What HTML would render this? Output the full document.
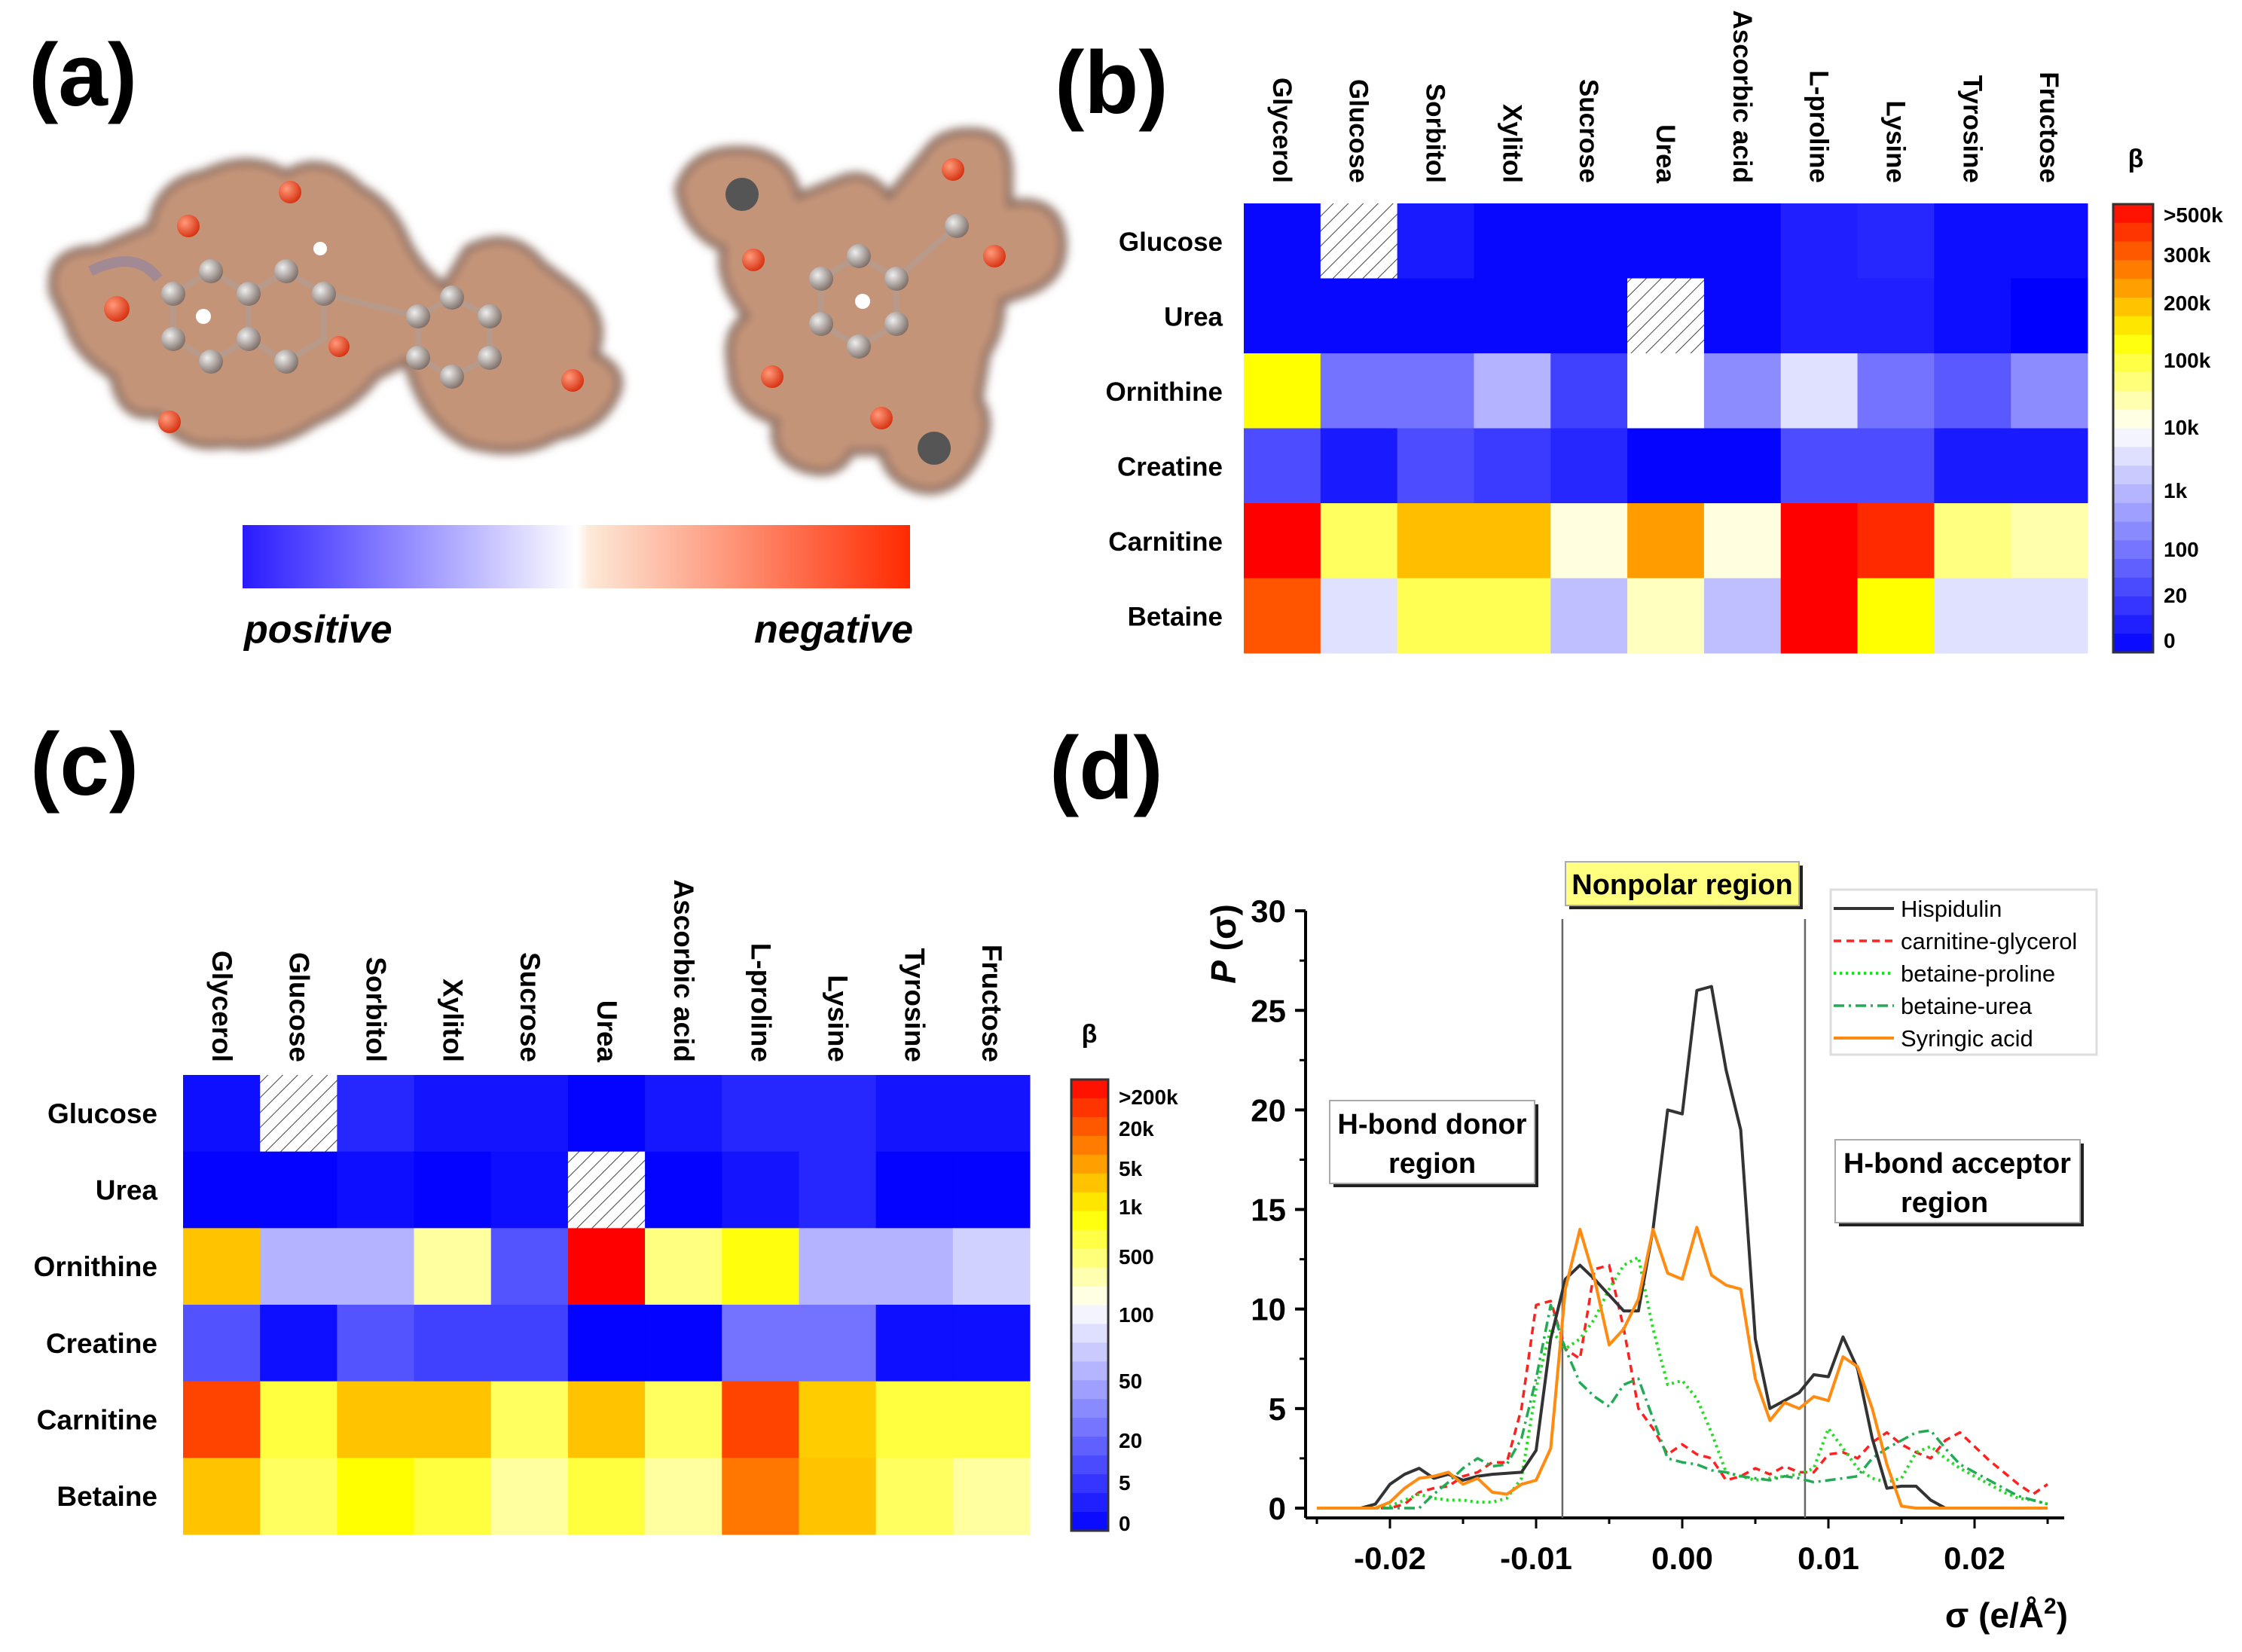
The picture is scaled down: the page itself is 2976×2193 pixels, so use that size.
<!DOCTYPE html>
<html><head><meta charset="utf-8"><style>
html,body{margin:0;padding:0;background:#fff}
svg{display:block}
text{font-family:"Liberation Sans",sans-serif}
</style></head><body>
<svg id="fig" width="2976" height="2193" viewBox="0 0 2976 2193" xmlns="http://www.w3.org/2000/svg">
<defs>
<pattern id="hatch" width="14" height="14" patternUnits="userSpaceOnUse" patternTransform="rotate(45)">
<rect width="14" height="14" fill="#fff"/><line x1="0" y1="0" x2="0" y2="14" stroke="#444" stroke-width="2"/>
</pattern>
<linearGradient id="espbar" x1="0" x2="1" y1="0" y2="0">
<stop offset="0" stop-color="#2a1bff"/><stop offset="0.5" stop-color="#ffffff"/><stop offset="0.52" stop-color="#fde9d8"/><stop offset="1" stop-color="#ff2a00"/>
</linearGradient>
<radialGradient id="ball" cx="0.35" cy="0.35" r="0.7"><stop offset="0" stop-color="#eee"/><stop offset="1" stop-color="#7d6d66"/></radialGradient>
<radialGradient id="oball" cx="0.35" cy="0.35" r="0.7"><stop offset="0" stop-color="#ff9a7a"/><stop offset="1" stop-color="#d6300f"/></radialGradient>
<filter id="soft"><feGaussianBlur stdDeviation="6"/></filter>
</defs>

<text x="38" y="140" font-size="118" font-weight="bold">(a)</text>
<text x="1400" y="150" font-size="118" font-weight="bold">(b)</text>
<text x="40" y="1055" font-size="118" font-weight="bold">(c)</text>
<text x="1393" y="1060" font-size="118" font-weight="bold">(d)</text>

<g>
<g filter="url(#soft)" fill="#c49479" stroke="#8a6d60" stroke-width="10">
<path d="M70,390 Q60,330 130,330 L200,300 Q210,240 270,230 Q330,200 380,230 Q430,200 480,250 Q520,270 540,320 Q560,360 590,380 L620,330 Q680,300 720,350 L760,380 Q810,420 790,470 Q830,490 820,520 Q800,570 740,580 Q690,610 620,590 Q560,560 540,480 L500,500 Q470,540 420,560 Q360,600 300,590 Q240,600 210,550 Q160,560 150,500 Q100,470 90,430 Z"/>
</g>
<path d="M120,360 Q180,330 210,370" fill="none" stroke="#8080b0" stroke-width="14" opacity="0.5"/>
<g stroke="#b89a8a" stroke-width="8" fill="none">
<polygon points="230,390 280,360 330,390 330,450 280,480 230,450"/>
<polygon points="330,390 380,360 430,390 430,450 380,480 330,450"/>
<polygon points="555,420 600,395 650,420 650,475 600,500 555,475"/>
<line x1="430" y1="390" x2="555" y2="420"/>
</g>
<g fill="url(#ball)">
<circle cx="230" cy="390" r="16"/><circle cx="280" cy="360" r="16"/><circle cx="330" cy="390" r="16"/><circle cx="330" cy="450" r="16"/><circle cx="280" cy="480" r="16"/><circle cx="230" cy="450" r="16"/>
<circle cx="380" cy="360" r="16"/><circle cx="430" cy="390" r="16"/><circle cx="380" cy="480" r="16"/>
<circle cx="555" cy="420" r="16"/><circle cx="600" cy="395" r="16"/><circle cx="650" cy="420" r="16"/><circle cx="650" cy="475" r="16"/><circle cx="600" cy="500" r="16"/><circle cx="555" cy="475" r="16"/>
</g>
<g fill="url(#oball)">
<circle cx="250" cy="300" r="15"/><circle cx="385" cy="255" r="15"/><circle cx="155" cy="410" r="17"/><circle cx="225" cy="560" r="15"/><circle cx="450" cy="460" r="14"/><circle cx="760" cy="505" r="15"/>
</g>
<circle cx="270" cy="420" r="10" fill="#fff"/><circle cx="425" cy="330" r="9" fill="#fff"/>
</g>
<g>
<g filter="url(#soft)" fill="#c49479" stroke="#8a6d60" stroke-width="10">
<path d="M900,250 Q920,190 1000,200 Q1050,210 1060,260 L1110,240 Q1150,220 1180,260 L1230,200 Q1250,170 1300,175 Q1340,180 1340,230 L1340,270 Q1400,260 1410,310 Q1420,370 1360,390 L1330,400 Q1330,440 1310,470 L1300,530 Q1320,560 1300,600 Q1270,660 1220,650 Q1180,640 1170,600 L1130,600 Q1110,640 1060,620 Q1020,600 1030,560 Q970,540 970,490 Q960,440 990,420 Q950,370 960,330 Q910,310 900,250 Z"/>
</g>
<g stroke="#b89a8a" stroke-width="8" fill="none">
<polygon points="1090,370 1140,340 1190,370 1190,430 1140,460 1090,430"/>
<line x1="1190" y1="370" x2="1270" y2="300"/>
</g>
<g fill="url(#ball)">
<circle cx="1090" cy="370" r="16"/><circle cx="1140" cy="340" r="16"/><circle cx="1190" cy="370" r="16"/><circle cx="1190" cy="430" r="16"/><circle cx="1140" cy="460" r="16"/><circle cx="1090" cy="430" r="16"/><circle cx="1270" cy="300" r="16"/>
</g>
<circle cx="985" cy="258" r="22" fill="#555"/><circle cx="1240" cy="595" r="22" fill="#555"/>
<g fill="url(#oball)">
<circle cx="1265" cy="225" r="15"/><circle cx="1320" cy="340" r="15"/><circle cx="1000" cy="345" r="15"/><circle cx="1025" cy="500" r="15"/><circle cx="1170" cy="555" r="15"/>
</g>
<circle cx="1145" cy="400" r="10" fill="#fff"/>
</g>
<rect x="322" y="697" width="886" height="84" fill="url(#espbar)"/>
<text x="324" y="853" font-size="52" font-weight="bold" font-style="italic">positive</text>
<text x="1212" y="853" font-size="52" font-weight="bold" font-style="italic" text-anchor="end">negative</text>

<g id="heatB"></g>
<g id="heatC"></g>
<g id="plotD"></g>
</svg>
<script>
const NS="http://www.w3.org/2000/svg";
const cols=["Glycerol","Glucose","Sorbitol","Xylitol","Sucrose","Urea","Ascorbic acid","L-proline","Lysine","Tyrosine","Fructose"];
const rows=["Glucose","Urea","Ornithine","Creatine","Carnitine","Betaine"];
const levelsB=[
[0.3,null,1,0.3,0.3,0.3,0.3,1.2,1.5,0.5,0.5],
[0.3,0.3,0.3,0.3,0.3,null,0.3,1.2,1.2,0.5,0],
[14,4.5,4.5,7,2.5,10,5.5,8.8,4.5,3.5,5.5],
[3,1,3,2.3,1.5,0.2,0.2,3,3,1,1],
[20,12.5,15.5,15.5,10.5,16.3,10.5,20,19,12,11.3],
[18,8.8,12.7,12.7,7.5,11,7.5,20,14,8.8,8.8]];
const levelsC=[
[0.6,null,1.5,0.8,0.8,0.1,0.9,1.5,1.5,0.8,0.8],
[0.1,0.1,0.5,0.1,0.5,null,0.1,0.8,1.5,0.1,0.1],
[15.4,7,7,11.5,3.3,20,12,13.8,7,7,8.2],
[3.2,0.6,3.3,2.5,2.5,0.1,0.1,4.5,4.5,0.6,0.6],
[18.4,13,15.4,15.4,12.5,15.4,12.5,18.4,15.2,13,13],
[15.4,12.5,14,13,11.5,13,11.5,17.2,15.4,12.5,11.5]];
const ticksB=[">500k","300k","200k","100k","10k","1k","100","20","0"];
const ticksC=[">200k","20k","5k","1k","500","100","50","20","5","0"];

const sigma=[];for(let i=0;i<=50;i++)sigma.push(-0.025+i*0.001);
const hispidulin=[0,0,0,0,0.2,1.2,1.7,2.0,1.5,1.7,1.4,1.6,1.7,1.75,1.8,2.9,8.5,11.5,12.2,11.5,10.7,9.9,9.9,14,20,19.8,26,26.2,22,19,8.5,5.0,5.4,5.8,6.7,6.6,8.6,7.0,3.5,1.0,1.1,1.1,0.4,0,0,0,0,0,0,0,0];
const carnGly=[0,0,0,0,0,0,0.2,0.8,1.0,1.1,1.6,1.8,2.3,2.3,5,10.2,10.4,8,7.5,12,12.2,9,5,4,2.7,3.2,2.7,2.5,1.4,1.6,2.0,1.7,2.1,1.8,1.8,2.7,2.8,2.5,3.3,3.8,3.2,2.8,2.5,3.4,3.8,3.1,2.4,1.8,1.2,0.7,1.2];
const betPro=[0,0,0,0,0,0.1,0.4,0.7,0.5,0.4,0.4,0.3,0.3,0.5,1.5,6,9,8,8.5,9.5,11,12.2,12.6,9,6.2,6.4,5.5,3.8,1.8,1.6,1.4,1.5,1.6,1.7,2.0,4.0,3.0,2.0,1.5,1.3,1.5,2.8,3.1,2.5,2,1.6,1.2,0.8,0.5,0.4,0.2];
const betUrea=[0,0,0,0,0,0,0,0,0.7,1.3,2.0,2.5,2.1,2.2,3.5,6.5,10.2,8,6.3,5.6,5.1,6.2,6.5,4.5,2.5,2.3,2.2,1.9,1.8,1.6,1.5,1.4,1.6,1.5,1.3,1.4,1.5,1.6,2.5,3.0,3.4,3.8,3.9,3.0,2.2,1.8,1.4,1.0,0.6,0.4,0.2];
const syringic=[0,0,0,0,0,0.3,1.0,1.5,1.6,1.8,1.2,1.5,0.8,0.7,1.2,1.4,3.0,11,14,11.5,8.2,9,10.5,14,11.8,11.5,14.1,11.7,11.2,11,6.5,4.4,5.3,5.0,5.6,5.4,7.6,7.1,5,2.2,0.1,0,0,0,0,0,0,0,0,0,0];
const xTicks=[-0.02,-0.01,0,0.01,0.02];
const xTickLabels=["-0.02","-0.01","0.00","0.01","0.02"];
const yTicks=[0,5,10,15,20,25,30];
const regionBounds=[-0.0082,0.0084];

function lvlColor(t){
  let r,g,b;
  if(t<=10){r=g=Math.round(255*t/10);b=255;}
  else if(t<=14){r=g=255;b=Math.round(255*(1-(t-10)/4));}
  else{r=255;g=Math.round(255*(1-(t-14)/6));b=0;}
  return `rgb(${r},${g},${b})`;
}
function mk(tag,attrs,parent,txt){const e=document.createElementNS(NS,tag);for(const k in attrs)e.setAttribute(k,attrs[k]);if(txt!==undefined)e.textContent=txt;parent.appendChild(e);return e;}

function heatmap(gid,levels,ticks,o){
  const g=document.getElementById(gid);
  const cw=(o.x1-o.x0)/cols.length, rh=(o.y1-o.y0)/rows.length;
  levels.forEach((row,ri)=>row.forEach((v,ci)=>{
    const r=mk('rect',{x:o.x0+ci*cw,y:o.y0+ri*rh,width:cw+0.5,height:rh+0.5,fill:v===null?'url(#hatch)':lvlColor(v)},g);
    
    
  }));
  rows.forEach((n,ri)=>{
    const t=mk('text',{x:o.rowX,y:o.y0+(ri+0.5)*rh+13,'font-size':o.fs,'font-weight':'bold','text-anchor':'end'},g,n);
    
    
  });
  cols.forEach((n,ci)=>{
    const x=o.x0+(ci+0.5)*cw-12;
    const t=mk('text',{x:0,y:0,'font-size':o.fs,'font-weight':'bold','text-anchor':'end',transform:`translate(${x},${o.colY}) rotate(90)`},g,n);
    
    
  });
  const nb=24, bh=(o.cb.y1-o.cb.y0)/nb;
  for(let i=0;i<nb;i++){
    const r=mk('rect',{x:o.cb.x0,y:o.cb.y0+i*bh,width:o.cb.x1-o.cb.x0,height:bh+0.6,fill:lvlColor(20*(1-(i+0.5)/nb))},g);
    
    
  }
  const fr=mk('rect',{x:o.cb.x0,y:o.cb.y0,width:o.cb.x1-o.cb.x0,height:o.cb.y1-o.cb.y0,fill:'none',stroke:'#333','stroke-width':3},g);
  
  
  ticks.forEach((tk,i)=>{
    const t=mk('text',{x:o.cb.x1+14,y:o.tickY[i]+10,'font-size':o.tfs,'font-weight':'bold'},g,tk);
    
    
  });
  const b=mk('text',{x:o.beta[0],y:o.beta[1],'font-size':34,'font-weight':'bold','text-anchor':'middle'},g,'β');
  
  
}
heatmap('heatB',levelsB,ticksB,{x0:1651,x1:2771,y0:270,y1:867,rowX:1623,colY:243,fs:35,tfs:28,
  cb:{x0:2805,x1:2858,y0:271,y1:866},tickY:[285,338,402,478,567,651,729,790,850],beta:[2835,222]});
heatmap('heatC',levelsC,ticksC,{x0:243,x1:1367,y0:1427,y1:2037,rowX:209,colY:1410,fs:37,tfs:28,
  cb:{x0:1422,x1:1471,y0:1433,y1:2032},tickY:[1456,1498,1551,1602,1668,1745,1833,1912,1968,2022],beta:[1446,1384]});

const D=document.getElementById('plotD');
const X0=1733,X1=2740,AX=2015;
const sx=s=>2233+s*19400, sy=v=>2002-v*26.43;
let e;
e=mk('line',{x1:X0,y1:AX,x2:X0,y2:sy(30),stroke:'#000','stroke-width':4},D);

e=mk('line',{x1:X0,y1:AX,x2:X1,y2:AX,stroke:'#000','stroke-width':4},D);

yTicks.forEach(v=>{
  mk('line',{x1:X0-14,y1:sy(v),x2:X0,y2:sy(v),stroke:'#000','stroke-width':4},D);
  if(v<30)mk('line',{x1:X0-8,y1:sy(v+2.5),x2:X0,y2:sy(v+2.5),stroke:'#000','stroke-width':3},D);
  const t=mk('text',{x:X0-26,y:sy(v)+15,'font-size':42,'font-weight':'bold','text-anchor':'end'},D,String(v));
  
});
for(let i=0;i<=10;i++){const s=-0.025+i*0.005;mk('line',{x1:sx(s),y1:AX,x2:sx(s),y2:AX+(i%2?14:8),stroke:'#000','stroke-width':3},D);}
xTicks.forEach((s,i)=>{
  const t=mk('text',{x:sx(s),y:2083,'font-size':42,'font-weight':'bold','text-anchor':'middle'},D,xTickLabels[i]);
  
});
regionBounds.forEach(s=>{
  e=mk('line',{x1:sx(s),y1:1220,x2:sx(s),y2:AX,stroke:'#666','stroke-width':2.5},D);
  
});
const series=[
 {name:'Hispidulin',data:hispidulin,color:'#333',dash:'',w:4},
 {name:'carnitine-glycerol',data:carnGly,color:'#ff2020',dash:'10 7',w:3.5},
 {name:'betaine-proline',data:betPro,color:'#22dd22',dash:'3 5',w:4},
 {name:'betaine-urea',data:betUrea,color:'#22aa55',dash:'14 6 3 6',w:3.5},
 {name:'Syringic acid',data:syringic,color:'#ff8c10',dash:'',w:4}];
[1,2,3,0,4].forEach(k=>{
  const s=series[k];
  const d=s.data.map((v,i)=>(i?'L':'M')+sx(sigma[i]).toFixed(1)+','+sy(v).toFixed(1)).join(' ');
  const p=mk('path',{d:d,fill:'none',stroke:s.color,'stroke-width':s.w,'stroke-dasharray':s.dash,'stroke-linejoin':'round'},D);
  
  
});
e=mk('rect',{x:2430,y:1181,width:353,height:219,fill:'#fff',stroke:'#ddd','stroke-width':3},D);

series.forEach((s,i)=>{
  const y=1206+i*43;
  mk('line',{x1:2434,y1:y,x2:2514,y2:y,stroke:s.color,'stroke-width':s.w,'stroke-dasharray':s.dash},D);
  const t=mk('text',{x:2523,y:y+11,'font-size':31},D,s.name);
  
});
function box(x,y,w,h,fill,lines,name){
  const g=mk('g',{},D);
  
  mk('rect',{x:x+5,y:y+5,width:w,height:h,fill:'#222'},g);
  mk('rect',{x:x,y:y,width:w,height:h,fill:fill,stroke:'#aaa','stroke-width':2},g);
  lines.forEach(l=>mk('text',{x:x+l[1],y:y+l[2],'font-size':38,'font-weight':'bold','text-anchor':'middle'},g,l[0]));
}
box(2078,1144,310,58,'#ffff80',[['Nonpolar region',155,43]],'nonpolar-region-box');
box(1765,1461,272,110,'#fff',[['H-bond donor',136,44],['region',136,96]],'donor-region-box');
box(2436,1513,325,110,'#fff',[['H-bond acceptor',162,44],['region',145,96]],'acceptor-region-box');
e=mk('text',{x:0,y:0,'font-size':46,'font-weight':'bold',transform:'translate(1640,1253) rotate(-90)','text-anchor':'middle'},D);
e.innerHTML='<tspan font-style="italic">P</tspan> (σ)';

e=mk('text',{x:2745,y:2160,'font-size':46,'font-weight':'bold','text-anchor':'end'},D);
e.innerHTML='σ (e/Å<tspan font-size="30" dy="-18">2</tspan><tspan dy="18">)</tspan>';

</script>
</body></html>
